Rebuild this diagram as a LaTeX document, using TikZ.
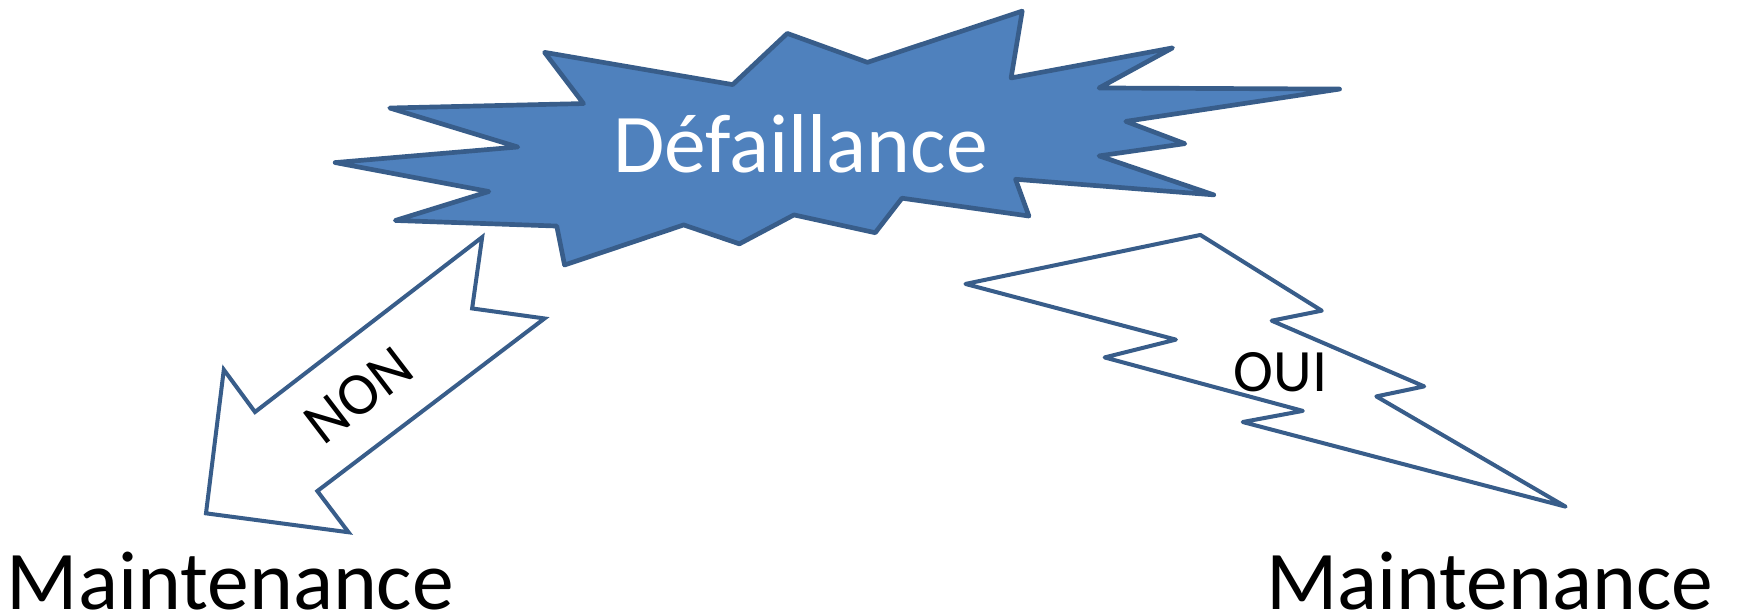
\documentclass[tikz,border=0pt]{standalone}
\usepackage{fontspec}
\setmainfont{Carlito}
\definecolor{burstfill}{HTML}{4F81BD}
\definecolor{outline}{HTML}{385D8A}
\tikzset{
  burst/.style={fill=burstfill, draw=outline, line width=4.2pt, line join=round},
  bigarrow/.style={fill=white, draw=outline, line width=3.6pt, line join=miter},
  bolt/.style={draw=outline, line width=3.6pt, line join=round},
  bigtext/.style={inner sep=0pt, font=\fontsize{75}{90}\selectfont},
  midtext/.style={inner sep=0pt, font=\fontsize{54}{64}\selectfont},
}
\begin{document}
\begin{tikzpicture}[x=1pt, y=-1pt]
\useasboundingbox (0,0) rectangle (1568,553);

% explosion shape
\draw[burst] (489,47) -- (524,93) -- (350,97) -- (465,132) -- (301,146)
  -- (439,172) -- (355,198) -- (500,203) -- (507,238) -- (614,202)
  -- (664,219) -- (713,193) -- (786,209) -- (810,178) -- (924,194)
  -- (912,161) -- (1090,175) -- (987,140) -- (1064,129) -- (1011,109)
  -- (1203,80) -- (987,79) -- (1053,43) -- (908,70) -- (918,10)
  -- (779,56) -- (707,30) -- (658,76) -- cycle;
\node[bigtext, text=white, anchor=base] (defaut) at (719,155) {Défaillance};

% block arrow towards the left
\draw[bigarrow] (433,213) -- (424,277) -- (489,286) -- (285,441) -- (313,478)
  -- (185,461) -- (201,332) -- (229,370) -- cycle;
\node[midtext, rotate=37.4] (non) at (322,355) {NON};

% lightning bolt towards the right
\draw[bolt] (1078,211) -- (1187,279) -- (1142,288) -- (1279,347) -- (1236,356)
  -- (1406,455) -- (1116,379) -- (1170,369) -- (992,321) -- (1056,305)
  -- (867,255) -- cycle;
\node[midtext, anchor=base] (oui) at (1150,352) {OUI};

% outcomes
\node[bigtext, anchor=base west] (mleft) at (6,547) {Maintenance};
\node[bigtext, anchor=base west] (mright) at (1137,547) {Maintenance};
\end{tikzpicture}
\end{document}
